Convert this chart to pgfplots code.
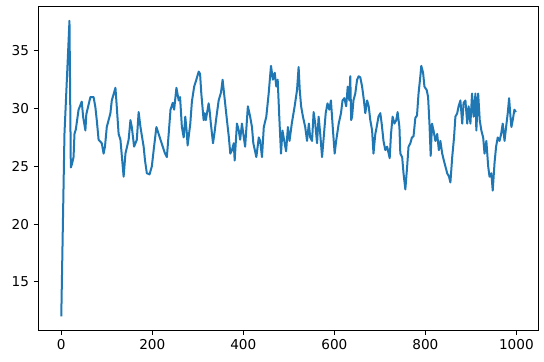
\documentclass[border=0pt]{standalone}
\usepackage{pgfplots}
\pgfplotsset{compat=1.18}
\usepackage{fontspec}
\setmainfont{DejaVu Sans}
\definecolor{mplblue}{HTML}{1F77B4}
\pgfplotstableread{
x y
0 12.0
7 27.8
18 37.6
21 24.9
23.5 25.2
27 25.8
29 27.8
32 28.2
38 29.9
40 30.1
45 30.6
48 29.3
53 28.1
55 29.5
64 31.0
71 31.0
75 30.1
78 29.0
82 27.3
89 27.0
93 26.1
96 26.7
100 28.4
108 29.6
111 30.7
119 31.8
121 30.7
126 27.8
130 27.3
137 24.1
141 26.1
148 27.3
152 29.0
155 28.4
160 26.7
166 27.3
170 29.7
174 28.4
181 26.7
184 25.5
188 24.4
194 24.3
199 25.0
203 26.4
209 28.4
214 27.8
218 27.3
223 26.7
228 26.1
232 25.8
236 27.8
240 29.9
245 30.5
248 29.9
253 31.8
258 30.7
261 31.0
265 28.4
269 27.5
272.5 29.3
276 27.8
277.6 26.8
283.5 28.7
287 30.6
292 31.9
296 32.4
302 33.2
305 33.0
307.7 31.3
312.8 29.0
315.2 29.6
317.6 29.0
323.8 30.45
326 29.8
328.4 28.8
333.4 27.0
336.7 27.9
340 29.0
345.8 30.7
351 31.4
354.5 32.5
358 31.2
364 29.0
368 27.6
371.4 26.1
375 26.4
379 27.0
381 25.5
386 28.7
390 28.1
393 27.3
397 28.7
400 27.8
404 26.7
410 30.2
415 29.3
419 28.4
422 27.0
428.6 25.8
434 27.5
437 27.2
441 25.8
445 28.4
450.5 29.3
455.7 31.3
460.8 33.7
465 32.5
469 33.1
472.5 31.9
475.5 32.5
479 29.3
482.8 26.1
486 28.1
490 27.2
494 26.3
498 28.4
501.5 27.2
506.5 28.7
512.8 30.2
518 31.6
521.5 33.6
524 31.6
527 30.2
531 29.3
536 28.4
540 27.2
544 28.7
547 27.5
551 27.2
554.5 29.7
558 28.7
562 27.0
565.5 29.3
569 27.8
573 25.8
576 27.2
581 29.6
585 30.45
589 29.9
592.5 30.7
597 28.1
600.7 26.1
604 27.2
609.6 28.7
614.6 29.6
618 30.7
622 30.9
626 30.2
629.4 31.9
633 30.7
635 32.8
637 29.0
639 29.3
642 30.7
646 31.3
650 32.5
653.5 32.8
657 32.7
661 31.9
665 30.7
668 29.6
672 30.7
675.5 30.2
679 29.0
683 28.1
686 26.1
690 27.8
693 28.4
697 29.3
701 29.6
704 28.7
708 27.2
712 26.4
716 26.7
721.6 25.7
724.5 27.8
728 29.3
732 28.7
736 29.0
739 29.7
743 28.4
745 26.1
749 25.8
752 24.4
756 23.0
760 25.0
763 26.7
767 27.0
770.5 27.5
774 27.6
778 29.2
781.6 29.4
785 31.3
789 32.8
791 33.7
795 33.1
798 31.9
803 31.6
806 31.0
809 28.7
811.7 25.9
814.6 28.7
818 28.1
822 27.2
826 27.8
829.6 26.4
833 27.2
837 26.1
840.7 25.5
844 25.0
848 24.4
852 24.1
855 23.6
859 25.8
863 27.5
866 29.3
870 29.6
873 30.2
877 30.7
881 28.7
884 30.5
888 30.7
892 28.7
895 30.2
899 28.7
902.6 31.3
906 29.3
910 31.3
912 28.1
916 31.3
919.5 29.0
923 28.1
927 27.5
930 26.1
934 27.2
938 25.0
941 24.1
945 24.4
948 22.9
952 25.3
955.4 26.7
959 27.5
963 27.2
966.5 27.8
970 28.7
974 27.2
977.4 28.4
981 29.6
984 30.9
987 29.3
989 28.4
992 29.0
995.6 29.9
999 29.7
}\datatable
\begin{document}
\begin{tikzpicture}
\useasboundingbox (-28.9pt,-23.25pt) rectangle (379pt,247.5pt);
\begin{axis}[
  at={(0,0)}, anchor=south west,
  scale only axis, width=375pt, height=243pt,
  xmin=-49.95, xmax=1048.95, ymin=10.82, ymax=38.88,
  xtick={0,200,400,600,800,1000},
  ytick={15,20,25,30,35},
  tick pos=left, tick align=outside,
  major tick length=3.6pt,
  minor tick num=0,
  every tick/.style={black, line width=0.6pt},
  axis line style={black, line width=0.6pt},
  tick label style={font=\fontsize{10.2}{12}\selectfont},
  /pgf/number format/assume math mode=true,
  /pgf/number format/1000 sep={},
  axis background/.style={fill=white},
]
\addplot[mplblue, line width=1.5pt, line join=round, mark=none] table[x=x,y=y] {\datatable};
\end{axis}
\end{tikzpicture}
\end{document}
